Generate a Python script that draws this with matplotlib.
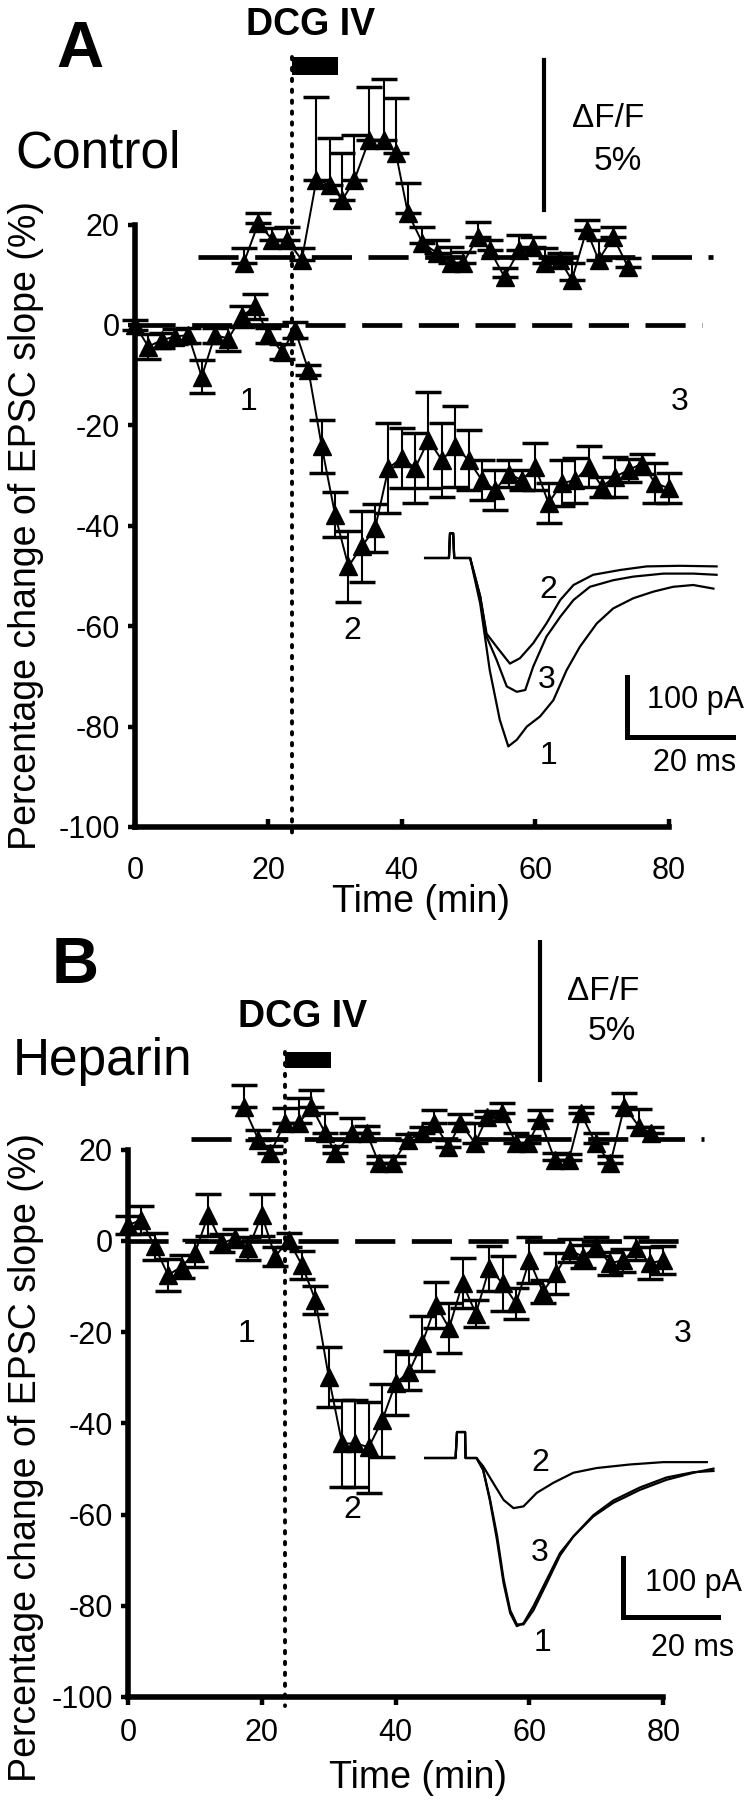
"""Two-panel DCG IV figure: EPSC slope and fluorescence over time, with EPSC traces."""

import matplotlib
matplotlib.use("Agg")
import matplotlib.pyplot as plt

plt.rcParams["font.family"] = ["Liberation Sans", "DejaVu Sans"]
plt.rcParams["axes.unicode_minus"] = False

W, H = 756, 1800

# ---------------------------------------------------------------- data
EPSC_TIME = [0, 2, 4, 6, 8, 10, 12, 14, 16, 18, 20, 22, 24, 26, 28, 30, 32, 34, 36, 38, 40,
             42, 44, 46, 48, 50, 52, 54, 56, 58, 60, 62, 64, 66, 68, 70, 72, 74, 76, 78, 80]

# panel A (control)
A_EPSC = [0, -4.3, -3.0, -2.3, -2.0, -10.3, -2.0, -2.7, 1.7, 3.7, -2.0, -5.3, -1.0, -9.0,
          -24.2, -37.8, -48.1, -44.1, -40.5, -28.5, -26.5, -28.5, -22.9, -26.9, -24.2, -26.9,
          -30.9, -32.9, -29.6, -30.9, -28.2, -35.5, -31.5, -30.9, -28.2, -32.2, -30.2, -28.9,
          -27.6, -31.5, -32.5]
A_EPSC_ERR = [1, 2.5, 1.5, 1.5, 1.5, 3.3, 1.5, 2.5, 2, 2.5, 1.5, 1.5, 1.5, 1, 5.2, 4.5, 7, 7,
              4.8, 9, 6, 7, 9.5, 7.3, 8, 6, 4, 4, 2.7, 2, 4.6, 4, 4.6, 4.5, 4, 2, 4, 2.3, 2, 4, 3]
A_FL_TIME = [16.3, 18.5, 20.6, 22.8, 25.0, 27.2, 29.3, 31.1, 32.9, 35.1, 37.3, 39.1, 40.9,
             43.1, 45.3, 47.4, 49.2, 51.4, 53.2, 55.4, 57.6, 59.7, 61.5, 63.7, 65.5, 67.7,
             69.5, 71.7, 73.9]
A_FL = [-0.2, 1.13, 0.57, 0.57, -0.1, 2.57, 2.4, 1.9, 2.57, 3.9, 3.9, 3.47, 1.47, 0.47, 0.13,
        -0.2, -0.2, 0.67, 0.23, -0.67, 0.23, 0.33, -0.2, -0.1, -0.77, 0.9, -0.1, 0.67, -0.33]
A_FL_ERR = [0.5, 0.33, 0.4, 0.43, 0.4, 2.77, 1.57, 1.57, 1.5, 1.77, 2.03, 1.83, 1.0, 0.53, 0.43,
            0.53, 0.37, 0.5, 0.33, 0.3, 0.5, 0.33, 0.5, 0.23, 0.57, 0.33, 0.67, 0.33, 0.3]

# panel B (heparin)
B_EPSC = [3.5, 4.6, -1.2, -7.5, -5.6, -2.7, 5.7, -0.5, 0.6, -1.6, 5.7, -3.4, 0.2, -5.3,
          -12.9, -29.8, -44.4, -44.4, -45.2, -39.3, -31.2, -28.7, -22.4, -14.0, -19.1, -9.3,
          -15.9, -6.0, -9.3, -13.7, -4.2, -11.1, -7.1, -2.0, -3.4, -1.2, -4.9, -4.2, -1.6,
          -4.9, -4.2]
B_EPSC_ERR = [2, 3, 3, 3.5, 2.5, 3, 4.5, 2, 2, 2.5, 4.5, 2, 1.5, 3, 3, 6.5, 9.5, 9.5, 10, 8, 7,
              4, 6, 5, 5.5, 5.5, 3, 5, 6, 3.5, 5, 2.5, 4.5, 2.5, 2.5, 2, 2.5, 2.5, 2.5, 3.5, 3]
B_FL_TIME = [17.3, 19.5, 21.3, 23.4, 25.6, 27.4, 29.5, 31.0, 33.5, 35.7, 37.5, 39.6, 41.8,
             44.0, 45.8, 47.9, 49.7, 51.9, 53.7, 55.9, 58.0, 59.8, 61.6, 63.8, 65.9, 67.7,
             69.9, 72.1, 74.2, 76.4, 78.2]
B_FL = [1.09, -0.03, -0.48, 0.53, 0.53, 1.09, 0.19, -0.48, 0.19, 0.19, -0.82, -0.82, -0.03,
        0.19, 0.53, -0.26, 0.53, -0.15, 0.75, 0.86, -0.15, -0.15, 0.64, -0.71, -0.71, 0.86,
        -0.15, -0.82, 1.09, 0.41, 0.19]
B_FL_ERR = [0.73, 0.34, 0.24, 0.5, 0.84, 0.56, 0.68, 0.23, 0.5, 0.23, 0.23, 0.23, 0.2, 0.2,
            0.45, 0.23, 0.3, 0.68, 0.2, 0.34, 0.34, 0.23, 0.34, 0.23, 0.2, 0.2, 0.34, 0.23,
            0.47, 0.6, 0.2]

# EPSC sample traces (ms, pA); 1 = before, 2 = DCG IV, 3 = wash
A_PRE_T = [-4.7, -0.2, 0.0, 0.6, 0.8, 3.8]
A_PRE_I = [0, 0, 41, 41, 0, 0]
A_TR1_T = [5.7, 7.5, 9.4, 11.0, 12.6, 14.5, 17.0, 19.5, 22.0, 24.5, 27.7, 30.8, 34.6, 38.4,
           42.1, 45.9, 49.7]
A_TR1_I = [-76, -187, -270, -314, -303, -281, -264, -237, -187, -148, -109, -84, -67, -56,
           -48, -45, -51]
A_TR2_T = [5.7, 6.9, 8.8, 11.3, 13.2, 15.7, 18.2, 20.8, 23.3, 27.0, 32.1, 37.1, 43.4, 50.3]
A_TR2_I = [-64, -126, -148, -176, -167, -142, -109, -70, -45, -28, -20, -14, -13, -14]
A_TR3_T = [5.7, 6.9, 8.8, 10.7, 12.6, 14.2, 15.7, 18.2, 20.8, 23.3, 26.4, 30.8, 34.6, 40.3,
           45.9, 50.3]
A_TR3_I = [-64, -131, -170, -214, -223, -220, -181, -131, -98, -70, -48, -37, -31, -26, -26,
           -28]

B_PRE_T = [-6.7, -0.3, 0.0, 1.7, 1.8, 4.1]
B_PRE_I = [0, 0, 44, 44, 0, 0]
B_TR1_T = [5.5, 6.9, 8.4, 9.8, 11.2, 12.6, 14.0, 16.1, 18.9, 21.7, 24.5, 28.7, 32.9, 38.5,
           44.1, 49.8, 54.0]
B_TR1_I = [-20, -71, -138, -212, -263, -285, -280, -251, -206, -161, -133, -99, -76, -54,
           -37, -25, -18]
B_TR2_T = [5.5, 7.6, 9.8, 11.9, 14.0, 16.8, 20.3, 24.5, 29.4, 36.4, 43.4, 52.6]
B_TR2_I = [-14, -42, -71, -85, -82, -59, -42, -25, -17, -11, -7, -7]
B_TR3_T = [5.5, 6.9, 8.4, 9.8, 11.2, 12.6, 14.0, 16.1, 18.9, 21.7, 24.5, 28.7, 32.9, 38.5,
           44.1, 49.8, 54.0]
B_TR3_I = [-20, -68, -130, -205, -258, -282, -282, -258, -212, -165, -133, -97, -72, -50,
           -33, -24, -22]

DRUG_ON, DRUG_OFF = 23.5, 30.4
SCALE_MS, SCALE_PA, SCALE_FL = 20, 100, 5

X_TICKS = [0, 20, 40, 60, 80]
Y_TICKS = [-100, -80, -60, -40, -20, 0, 20]


def fig_xy(px, py):
    return px / W, 1 - py / H


def place_axes(fig, x0, sx, y0, sy, xlim, ylim):
    """Axes whose data origin sits at pixel (x0, y0) with sx, sy pixels per unit."""
    left = x0 + xlim[0] * sx
    right = x0 + xlim[1] * sx
    top = y0 - ylim[1] * sy
    bottom = y0 - ylim[0] * sy
    ax = fig.add_axes([left / W, 1 - bottom / H, (right - left) / W, (bottom - top) / H])
    ax.set_xlim(xlim)
    ax.set_ylim(ylim)
    ax.patch.set_alpha(0)
    return ax


def txt(fig, px, py, s, size, **kw):
    x, y = fig_xy(px, py)
    kw.setdefault("ha", "center")
    kw.setdefault("va", "baseline")
    fig.text(x, y, s, fontsize=size, color="black", **kw)


def draw_panel(fig, lay, epsc, epsc_err, fl_t, fl, fl_err, traces, pre):
    ylim = (-106, 66)
    ax = place_axes(fig, lay["x0"], lay["sx"], lay["y0"], lay["sy"], (-3, 90), ylim)
    for side in ("top", "right"):
        ax.spines[side].set_visible(False)
    for side in ("left", "bottom"):
        ax.spines[side].set_linewidth(4)
        ax.spines[side].set_capstyle("projecting")
    ax.spines["left"].set_position(("data", 0))
    ax.spines["bottom"].set_position(("data", -100))
    ax.spines["left"].set_bounds(-100, 20)
    ax.spines["bottom"].set_bounds(0, 80)
    ax.set_xticks(X_TICKS)
    ax.set_yticks(Y_TICKS)
    ax.tick_params(axis="x", direction=lay["xtick_dir"], length=6, width=3.2,
                   pad=lay["xpad"], labelsize=22)
    ax.tick_params(axis="y", direction="out", length=5, width=3.2, pad=6, labelsize=22)

    # EPSC slope
    ax.errorbar(EPSC_TIME, epsc, yerr=epsc_err, fmt="-^", color="black", ms=13, lw=1.4,
                elinewidth=1.5, capsize=9.5, capthick=2.5, clip_on=False)
    ax.plot([0, lay["base_end"]], [0, 0], color="black", lw=3.4, dashes=(8.5, 3.5))

    # drug application
    ax.fill_between([DRUG_ON, DRUG_OFF], lay["bar"][0], lay["bar"][1], color="black", lw=0)
    ax.plot([DRUG_ON, DRUG_ON], [lay["bar"][1], -102], color="black", lw=2.8,
            ls=(0, (0.6, 2.2)), dash_capstyle="round")

    # fluorescence on its own scale
    k, base = lay["fl_k"], lay["fl_base"]
    tw = ax.twinx()
    tw.set_ylim((ylim[0] - base) / k, (ylim[1] - base) / k)
    tw.axis("off")
    tw.errorbar(fl_t, fl, yerr=[[0] * len(fl_err), fl_err], fmt="-^", color="black", ms=13,
                lw=1.4, elinewidth=1.5, capsize=9.5, capthick=2.5)
    tw.plot(lay["fl_span"], [0, 0], color="black", lw=3.4, dashes=(8.5, 3.5))
    tw.plot([lay["fl_bar_x"]] * 2, [lay["fl_bar_lo"], lay["fl_bar_lo"] + SCALE_FL],
            color="black", lw=3)

    # sample EPSC traces
    ins = place_axes(fig, lay["in_x0"], lay["in_sx"], lay["in_y0"], lay["in_sy"],
                     (-8, 58), (-360, 60))
    ins.axis("off")
    for t, i in traces:
        ins.plot(pre[0] + t, pre[1] + i, color="black", lw=1.6)
    sx, sy = lay["sb"]
    ins.plot([sx, sx, sx + SCALE_MS], [sy + SCALE_PA, sy, sy], color="black", lw=3.6,
             solid_joinstyle="miter")
    return ax


LAYOUT_A = dict(x0=135, sx=6.67, y0=325, sy=5.02, xtick_dir="in", xpad=21, base_end=85,
                bar=(49.8, 53.4), fl_k=5.98, fl_base=13.55, fl_span=[9.4, 86.7],
                fl_bar_x=61.3, fl_bar_lo=1.57,
                in_x0=450, in_sx=5.3, in_y0=558, in_sy=0.6, sb=(33.4, -298))
LAYOUT_B = dict(x0=128, sx=6.69, y0=1241, sy=4.56, xtick_dir="out", xpad=9, base_end=84,
                bar=(37.9, 41.4), fl_k=6.5, fl_base=22.4, fl_span=[9.4, 86.1],
                fl_bar_x=61.6, fl_bar_lo=2.0,
                in_x0=457, in_sx=4.75, in_y0=1458, in_sy=0.59, sb=(34.9, -269.5))

fig = plt.figure(figsize=(W / 100, H / 100), dpi=100)

draw_panel(fig, LAYOUT_A, A_EPSC, A_EPSC_ERR, A_FL_TIME, A_FL, A_FL_ERR,
           [(A_TR1_T, A_TR1_I), (A_TR2_T, A_TR2_I), (A_TR3_T, A_TR3_I)], (A_PRE_T, A_PRE_I))
draw_panel(fig, LAYOUT_B, B_EPSC, B_EPSC_ERR, B_FL_TIME, B_FL, B_FL_ERR,
           [(B_TR1_T, B_TR1_I), (B_TR2_T, B_TR2_I), (B_TR3_T, B_TR3_I)], (B_PRE_T, B_PRE_I))

# panel A text
txt(fig, 80, 67, "A", 47, weight="bold")
txt(fig, 311, 35, "DCG IV", 27, weight="bold")
txt(fig, 15, 167, "Control", 37, ha="left")
txt(fig, 608, 127, "ΔF/F", 24)
txt(fig, 618, 170, "5%", 24)
txt(fig, 248, 410, "1", 23)
txt(fig, 352, 639, "2", 23)
txt(fig, 680, 410, "3", 23)
txt(fig, 548, 598, "2", 23)
txt(fig, 547, 688, "3", 23)
txt(fig, 548, 764, "1", 23)
txt(fig, 647, 708, "100 pA", 22, ha="left")
txt(fig, 695, 771, "20 ms", 22)
txt(fig, 421, 912, "Time (min)", 27)
txt(fig, 26, 525, "Percentage change of EPSC slope (%)", 27, rotation=90, va="center")

# panel B text
txt(fig, 75, 983, "B", 47, weight="bold")
txt(fig, 303, 1027, "DCG IV", 27, weight="bold")
txt(fig, 13, 1075, "Heparin", 37, ha="left")
txt(fig, 603, 1000, "ΔF/F", 24)
txt(fig, 612, 1040, "5%", 24)
txt(fig, 246, 1342, "1", 23)
txt(fig, 352, 1518, "2", 23)
txt(fig, 683, 1342, "3", 23)
txt(fig, 540, 1471, "2", 23)
txt(fig, 540, 1561, "3", 23)
txt(fig, 543, 1651, "1", 23)
txt(fig, 645, 1591, "100 pA", 22, ha="left")
txt(fig, 693, 1656, "20 ms", 22)
txt(fig, 418, 1788, "Time (min)", 27)
txt(fig, 26, 1458, "Percentage change of EPSC slope (%)", 27, rotation=90, va="center")

fig.savefig("out.png", dpi=100)
